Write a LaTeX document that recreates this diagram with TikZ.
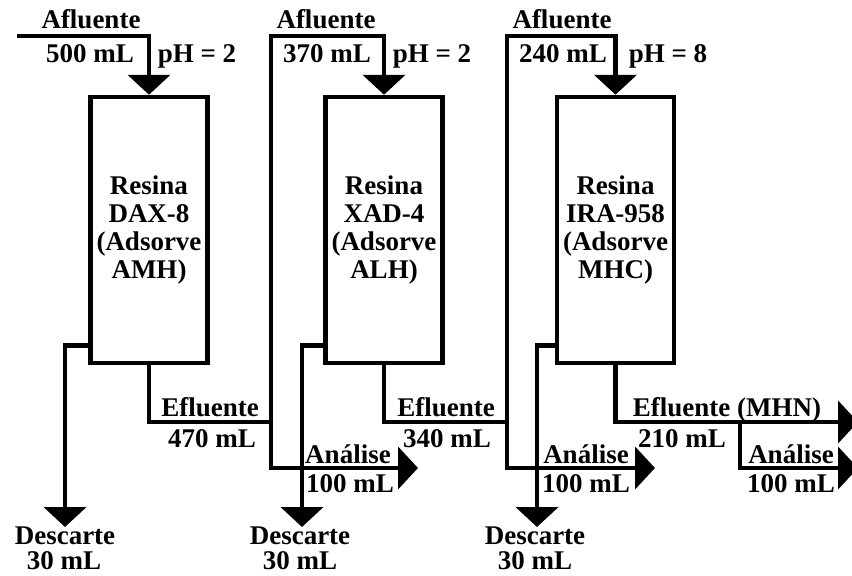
\documentclass[tikz,border=0pt]{standalone}
\usepackage{fontspec}
\setmainfont{Liberation Serif}
\usetikzlibrary{arrows.meta}
\begin{document}
\begin{tikzpicture}[x=1pt,y=-1pt,
  tipA/.tip={Triangle[width=42pt,length=20pt]},
  pipe/.style={line width=4.5pt},
  flow/.style={pipe,-tipA},
  twoflow/.style={pipe,tipA-tipA},
  col/.style={draw, line width=4.5pt, minimum width=117pt, minimum height=266pt,
    align=center, inner sep=0pt, font=\bfseries\fontsize{27}{27.7}\selectfont},
  lbl/.style={anchor=base, inner sep=0pt, text depth=0pt, font=\bfseries\fontsize{27}{28}\selectfont}]
\useasboundingbox (0,0) rectangle (852,576);

% columns
\node[col] (b1) at (149,230) {Resina\\DAX-8\\(Adsorve\\AMH)};
\node[col] (b2) at (384,230) {Resina\\XAD-4\\(Adsorve\\ALH)};
\node[col] (b3) at (615.5,230) {Resina\\IRA-958\\(Adsorve\\MHC)};

% free ends / junctions
\coordinate (in1) at (17,36);
\coordinate (t2) at (271,36);
\coordinate (s2) at (271,468);
\coordinate (j2) at (271,422);
\coordinate (an2) at (418,468);
\coordinate (t3) at (507,36);
\coordinate (s3) at (507,468);
\coordinate (j3) at (507,422);
\coordinate (an3) at (655,468);
\coordinate (e3) at (858,422);
\coordinate (br) at (740,422);
\coordinate (an4) at (858,468);
\coordinate (dc1) at (65,527);
\coordinate (dc2) at (302,527);
\coordinate (dc3) at (537,527);

% afluente 1
\draw[flow] (in1) -| (b1.north);
% afluente 2 + analise 2
\draw[twoflow] (b2.north) |- (t2) -- (s2) -- (an2);
% afluente 3 + analise 3
\draw[twoflow] (b3.north) |- (t3) -- (s3) -- (an3);
% efluentes
\draw[pipe] (b1.south) |- (j2);
\draw[pipe] (b2.south) |- (j3);
\draw[flow] (b3.south) |- (e3);
\draw[flow] (br) |- (an4);
% descartes
\draw[flow] (b1.south west) ++(0,-20) -| (dc1);
\draw[flow] (b2.south west) ++(0,-20) -| (dc2);
\draw[flow] (b3.south west) ++(0,-20) -| (dc3);

% labels top
\node[lbl] (af1) at (91,28) {Afluente};
\node[lbl] (v1) at (90,62) {500 mL};
\node[lbl] (ph1) at (197,62) {pH = 2};
\node[lbl] (af2) at (326,28) {Afluente};
\node[lbl] (v2) at (327,62) {370 mL};
\node[lbl] (ph2) at (432,62) {pH = 2};
\node[lbl] (af3) at (562,28) {Afluente};
\node[lbl] (v3) at (563,62) {240 mL};
\node[lbl] (ph3) at (668,62) {pH = 8};

% efluente labels
\node[lbl] (ef1) at (210,416) {Efluente};
\node[lbl] (ev1) at (212,447) {470 mL};
\node[lbl] (ef2) at (446,416) {Efluente};
\node[lbl] (ev2) at (447,447) {340 mL};
\node[lbl] (ef3) at (727,416) {Efluente (MHN)};
\node[lbl] (ev3) at (682,447) {210 mL};

% analise labels
\node[lbl] (at2) at (348,463) {Análise};
\node[lbl] (av2) at (350,492) {100 mL};
\node[lbl] (at3) at (586,463) {Análise};
\node[lbl] (av3) at (586,492) {100 mL};
\node[lbl] (at4) at (791,463) {Análise};
\node[lbl] (av4) at (791,492) {100 mL};

% descarte labels
\node[lbl] (dt1) at (65,544) {Descarte};
\node[lbl] (dv1) at (64,569) {30 mL};
\node[lbl] (dt2) at (300,544) {Descarte};
\node[lbl] (dv2) at (300,569) {30 mL};
\node[lbl] (dt3) at (535,544) {Descarte};
\node[lbl] (dv3) at (535,569) {30 mL};
\end{tikzpicture}
\end{document}
